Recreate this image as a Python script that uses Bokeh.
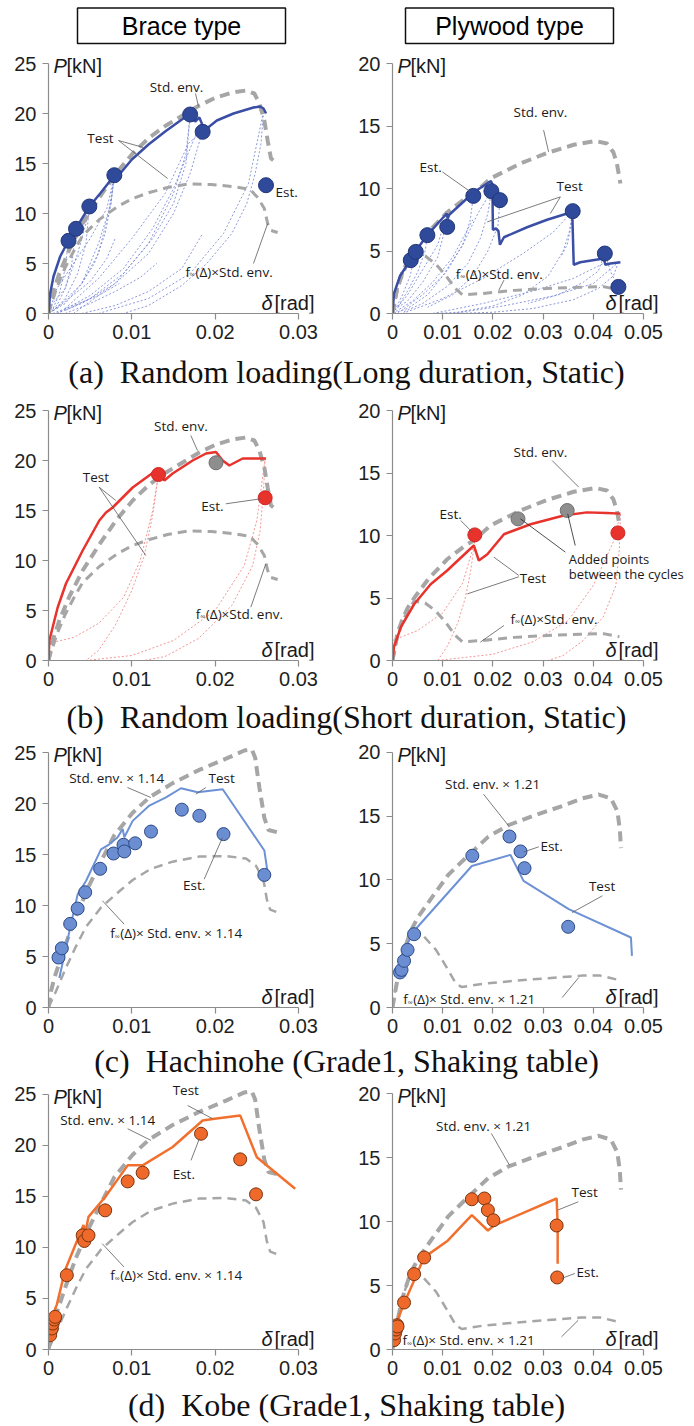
from bokeh.plotting import figure
from bokeh.models import Range1d, FixedTicker, CustomJSTickFormatter
from bokeh.layouts import column, row
from bokeh.core.properties import value
from bokeh.embed import file_html
from bokeh.resources import INLINE

# ---------------- tick labels ----------------
X_TICKS_BRACE = [0, 0.01, 0.02, 0.03]
X_TICKS_PLY = [0, 0.01, 0.02, 0.03, 0.04, 0.05]
Y_TICKS_BRACE = [0, 5, 10, 15, 20, 25]
Y_TICKS_PLY = [0, 5, 10, 15, 20]

HEADERS = ["Brace type", "Plywood type"]
CAPTIONS = [
    "(a)\u00a0 Random loading(Long duration, Static)",
    "(b)\u00a0 Random loading(Short duration, Static)",
    "(c)\u00a0 Hachinohe (Grade1, Shaking table)",
    "(d)\u00a0 Kobe (Grade1, Shaking table)",
]

# ---------------- envelopes ----------------
STD_BRACE_X = [0, 0.0005, 0.0013, 0.0025, 0.0041, 0.0061, 0.0081, 0.0101, 0.0121, 0.0141, 0.0161,
               0.0181, 0.0201, 0.0221, 0.0237, 0.0247, 0.0253, 0.0259, 0.0263, 0.0267, 0.0275]
STD_BRACE_Y = [0, 2.0, 4.0, 6.4, 9.0, 11.6, 14.0, 16.0, 17.6, 18.8, 19.8,
               20.8, 21.6, 22.1, 22.3, 22.0, 21.0, 19.3, 17.3, 15.5, 15.0]
FINF_BRACE_X = [0, 0.001, 0.002, 0.003, 0.0041, 0.0061, 0.0083, 0.0101, 0.0121, 0.0143, 0.0167,
                0.0195, 0.0221, 0.0242, 0.0251, 0.0259, 0.0263, 0.0267, 0.0275]
FINF_BRACE_Y = [0, 2.6, 4.6, 6.2, 7.8, 9.4, 10.7, 11.5, 12.1, 12.6, 12.95,
                12.9, 12.7, 12.4, 11.6, 10.5, 9.0, 8.3, 8.1]
STD_PLY_X = [0, 0.001, 0.002, 0.003, 0.0045, 0.0073, 0.0109, 0.0145, 0.0162, 0.0195, 0.0255,
             0.0308, 0.0361, 0.0404, 0.0427, 0.0440, 0.0447, 0.0454]
STD_PLY_Y = [0, 2.2, 3.3, 4.2, 5.1, 6.6, 8.1, 9.2, 9.6, 10.8, 12.0,
             12.85, 13.5, 13.8, 13.6, 12.9, 12.0, 10.4]
FINF_PLY_X = [0, 0.001, 0.002, 0.003, 0.0043, 0.0065, 0.0085, 0.0105, 0.0125, 0.0139, 0.0180,
              0.0242, 0.0308, 0.0374, 0.0420, 0.0452]
FINF_PLY_Y = [0, 1.9, 3.1, 4.0, 4.75, 4.6, 4.0, 3.1, 2.0, 1.5, 1.6,
              1.85, 2.0, 2.1, 2.15, 1.9]
STD114_X = [0, 0.0003, 0.0007, 0.0021, 0.0033, 0.0049, 0.0061, 0.0079, 0.0101, 0.0121, 0.0149,
            0.0181, 0.0213, 0.0235, 0.0244, 0.0248, 0.0253, 0.0259, 0.0264, 0.0274]
STD114_Y = [0, 1.6, 2.9, 6.3, 9.0, 12.0, 14.0, 16.9, 19.1, 20.6, 22.0,
            23.3, 24.4, 25.2, 25.3, 24.5, 21.6, 18.6, 17.4, 17.2]
FINF114_X = [0, 0.0009, 0.0021, 0.0033, 0.0045, 0.0063, 0.0085, 0.0101, 0.0123, 0.0149, 0.0181,
             0.0213, 0.0237, 0.0249, 0.0258, 0.0262, 0.0266, 0.0274]
FINF114_Y = [0, 1.6, 3.9, 6.0, 7.9, 9.8, 11.4, 12.5, 13.6, 14.3, 14.8,
             14.85, 14.6, 13.9, 12.5, 10.6, 9.6, 9.35]
STD121_X = [0, 0.0008, 0.0018, 0.0035, 0.0051, 0.0078, 0.0111, 0.0145, 0.0191, 0.0231, 0.0285,
            0.0338, 0.0378, 0.0411, 0.0435, 0.0448, 0.0453, 0.0455]
STD121_Y = [0, 1.8, 3.8, 5.9, 7.1, 8.6, 10.4, 11.7, 13.4, 14.3, 15.1,
            15.8, 16.4, 16.7, 16.4, 15.4, 13.9, 12.5]
FINF121_X = [0, 0.001, 0.002, 0.003, 0.0038, 0.0062, 0.0087, 0.0107, 0.0126, 0.0138, 0.0178,
             0.0244, 0.031, 0.0377, 0.0414, 0.0446]
FINF121_Y = [0, 2.4, 4.1, 5.2, 5.8, 5.6, 4.5, 3.2, 1.9, 1.6, 1.85,
             2.1, 2.3, 2.5, 2.5, 2.2]

# ---------------- (a) random long duration ----------------
A_L_TEST_X = [0, 0.0002, 0.0006, 0.0014, 0.0024, 0.0033, 0.0049, 0.0062, 0.0079, 0.0081, 0.0085,
              0.010, 0.012, 0.014, 0.016, 0.017, 0.0176, 0.0181, 0.0184, 0.0186, 0.019, 0.0202,
              0.0222, 0.0246, 0.0254, 0.0258, 0.0261]
A_L_TEST_Y = [0, 2.0, 3.7, 5.7, 7.3, 8.5, 10.7, 12.0, 13.8, 13.5, 13.9,
              15.4, 16.9, 18.2, 19.4, 19.9, 19.2, 19.6, 19.0, 18.2, 18.5, 19.3,
              20.0, 20.6, 20.7, 20.5, 20.0]
A_L_EST_X = [0.0024, 0.0033, 0.0049, 0.0079, 0.017, 0.0185, 0.0261]
A_L_EST_Y = [7.27, 8.47, 10.7, 13.83, 19.9, 18.17, 12.83]
A_L_LOOP_XS = [
    [0.0258, 0.0255, 0.0248, 0.0238, 0.022, 0.019, 0.016, 0.012, 0.009],
    [0.003, 0.008, 0.012, 0.015, 0.0165, 0.017],
    [0.002, 0.006, 0.010, 0.014, 0.0168, 0.0185],
    [0.0185, 0.017, 0.015, 0.012, 0.008, 0.004, 0.001],
    [0.017, 0.0165, 0.015, 0.0125, 0.009, 0.005, 0.002],
    [0.0079, 0.0072, 0.006, 0.004, 0.002, 0],
    [0.001, 0.004, 0.006, 0.0075, 0.0079],
    [0.0049, 0.0045, 0.0035, 0.002, 0.0005],
    [0, 0.002, 0.0035, 0.0045, 0.0049],
    [0.0033, 0.0028, 0.002, 0.001, 0],
    [0.006, 0.012, 0.017, 0.021, 0.024, 0.0258],
    [0.001, 0.005, 0.009, 0.0125, 0.015, 0.017, 0.018],
    [0.0005, 0.003, 0.006, 0.0085],
    [0, 0.002, 0.005, 0.007, 0.008],
    [0.004, 0.008, 0.012, 0.016, 0.0185],
    [0.0079, 0.0075, 0.0068, 0.0055, 0.004],
    [0, 0.001, 0.003, 0.005, 0.007, 0.0079],
    [0.0024, 0.002, 0.0013, 0.0005],
    [0.002, 0.005, 0.008, 0.011, 0.013],
]
A_L_LOOP_YS = [
    [20.2, 17, 14, 11, 8, 5, 2.8, 0.8, 0],
    [0, 3, 7, 12, 16, 19.9],
    [0.5, 3.5, 7.5, 12, 17, 18.3],
    [18.3, 14, 10, 6, 3, 1, 0],
    [19.9, 15, 11, 7.5, 4, 1.5, 0.3],
    [13.8, 10, 6, 3, 1, 0],
    [0.5, 3, 7, 11, 13.8],
    [10.7, 7, 4, 1.5, 0.2],
    [0.5, 2.5, 6, 9, 10.7],
    [8.5, 5, 2.5, 0.8, 0],
    [0, 1.5, 4, 8, 13, 20.2],
    [0, 1.8, 4.5, 8.5, 12.5, 16.5, 18.5],
    [0, 0.8, 1.8, 3.0],
    [0, 1.2, 3.2, 5.5, 7.5],
    [0, 0.8, 2.2, 4.5, 8.0],
    [13.8, 11, 8, 5, 3],
    [0, 2.5, 5, 7.5, 10.5, 13.8],
    [7.3, 4.5, 2.0, 0.4],
    [0, 1.0, 2.2, 3.6, 5.0],
]
A_R_TEST_X = [0, 0.0003, 0.0015, 0.0036, 0.0046, 0.0070, 0.0108, 0.0110, 0.0113, 0.0162, 0.0196,
              0.0199, 0.0200, 0.0206, 0.0211, 0.0214, 0.0222, 0.0268, 0.0308, 0.0348, 0.0358,
              0.0361, 0.0374, 0.0421, 0.0424, 0.0434, 0.0454]
A_R_TEST_Y = [0, 1.6, 3.0, 4.3, 5.0, 6.3, 8.0, 7.6, 7.9, 9.7, 10.6,
              10.3, 6.7, 6.8, 6.6, 5.5, 6.1, 6.9, 7.5, 8.0, 8.2,
              3.9, 4.1, 4.4, 3.9, 4.0, 4.1]
A_R_EST_X = [0.00364, 0.00464, 0.00695, 0.0109, 0.0161, 0.0197, 0.0214, 0.0359, 0.0423, 0.045]
A_R_EST_Y = [4.27, 4.93, 6.27, 6.93, 9.41, 9.79, 9.07, 8.19, 4.8, 2.13]
A_R_LOOP_XS = [
    [0.0359, 0.0352, 0.034, 0.031, 0.026, 0.02, 0.013, 0.008],
    [0.045, 0.044, 0.041, 0.036, 0.028, 0.02, 0.012],
    [0.0423, 0.041, 0.038, 0.033, 0.027],
    [0.0197, 0.019, 0.0175, 0.015, 0.011, 0.006, 0.002],
    [0.0161, 0.0155, 0.014, 0.011, 0.007, 0.003, 0],
    [0.0109, 0.0103, 0.009, 0.006, 0.003, 0],
    [0.007, 0.0065, 0.005, 0.003, 0.001],
    [0.001, 0.006, 0.010, 0.014, 0.017, 0.0197],
    [0.002, 0.010, 0.018, 0.026, 0.032, 0.0359],
    [0.008, 0.018, 0.028, 0.036, 0.042, 0.0423],
    [0.012, 0.022, 0.032, 0.040, 0.045],
    [0, 0.003, 0.006, 0.009, 0.0109],
    [0.0214, 0.021, 0.019, 0.016, 0.012, 0.007],
    [0.0046, 0.0035, 0.002, 0.0005],
    [0, 0.004, 0.008, 0.012, 0.016],
    [0.0359, 0.0356, 0.0348, 0.0335],
    [0.0423, 0.0435, 0.0447],
]
A_R_LOOP_YS = [
    [8.2, 6.5, 5.0, 3.0, 1.5, 0.6, 0.1, 0],
    [4.1, 3.0, 2.0, 1.1, 0.4, 0.1, 0],
    [4.8, 3.4, 2.5, 1.5, 0.8],
    [9.8, 8.0, 6.0, 4.0, 2.2, 0.8, 0.1],
    [9.4, 7.5, 5.5, 3.5, 1.5, 0.4, 0],
    [8.0, 6.5, 4.5, 2.5, 1.0, 0.2],
    [6.3, 5.0, 3.3, 1.8, 0.5],
    [0, 1.5, 3.0, 5.5, 8.0, 9.8],
    [0, 1.2, 2.8, 4.8, 6.5, 8.2],
    [0, 0.8, 1.8, 2.8, 4.0, 4.8],
    [0, 0.6, 1.4, 2.4, 4.1],
    [0, 1.5, 3.5, 5.5, 8.0],
    [9.07, 7.0, 5.0, 3.0, 1.5, 0.5],
    [4.9, 3.0, 1.5, 0.3],
    [0, 1.0, 2.5, 4.5, 7.5],
    [8.2, 7.0, 5.5, 4.5],
    [4.8, 3.3, 2.3],
]

# ---------------- (b) random short duration ----------------
B_L_TEST_X = [0, 0.0001, 0.0011, 0.0021, 0.0041, 0.0061, 0.0069, 0.0077, 0.0101, 0.0129, 0.0133,
              0.0139, 0.0149, 0.0173, 0.0189, 0.0201, 0.0209, 0.0217, 0.0233, 0.0261]
B_L_TEST_Y = [0, 2.0, 5.3, 7.7, 11.0, 14.0, 14.8, 15.3, 17.3, 19.0, 19.0,
              18.0, 18.7, 20.0, 20.7, 20.85, 20.0, 19.5, 20.2, 20.2]
B_L_EST_X = [0.0132, 0.026]
B_L_EST_Y = [18.6, 16.27]
B_L_ADD_X = [0.0201]
B_L_ADD_Y = [19.77]
B_L_LOOP_XS = [
    [0, 0.003, 0.006, 0.009, 0.011, 0.0125, 0.0132],
    [0.0132, 0.0125, 0.0115, 0.010, 0.008, 0.006, 0.0045],
    [0.0045, 0.010, 0.015, 0.020, 0.0235, 0.025, 0.026],
    [0.026, 0.0258, 0.0254, 0.0245, 0.022, 0.018, 0.014, 0.0115],
]
B_L_LOOP_YS = [
    [1.7, 2.3, 3.7, 6.3, 10.0, 15.0, 18.6],
    [18.6, 14.5, 10.5, 7.0, 3.5, 1.0, 0],
    [0, 0.5, 2.0, 5.0, 9.5, 14.0, 20.2],
    [20.2, 17.0, 13.0, 9.5, 5.5, 2.2, 0.4, 0],
]
B_R_TEST_X = [0, 0.0003, 0.0017, 0.0043, 0.0076, 0.0109, 0.0162, 0.0172, 0.0189, 0.0222, 0.0235,
              0.0275, 0.0341, 0.0387, 0.0427, 0.0454]
B_R_TEST_Y = [0, 1.1, 2.7, 4.5, 6.1, 7.2, 9.2, 8.0, 8.5, 10.1, 10.3,
              10.9, 11.6, 11.85, 11.8, 11.75]
B_R_EST_X = [0.0164, 0.0449]
B_R_EST_Y = [10.05, 10.21]
B_R_ADD_X = [0.025, 0.0348]
B_R_ADD_Y = [11.33, 12.0]
B_R_LOOP_XS = [
    [0, 0.005, 0.010, 0.014, 0.0164],
    [0.0164, 0.0155, 0.0145, 0.013, 0.011, 0.009],
    [0.009, 0.020, 0.028, 0.035, 0.040, 0.044, 0.0454],
    [0.0454, 0.0452, 0.0445, 0.042, 0.038, 0.034, 0.031],
]
B_R_LOOP_YS = [
    [1.6, 2.4, 3.8, 6.2, 9.5],
    [9.5, 7.0, 5.0, 3.0, 1.2, 0],
    [0, 0.5, 1.5, 3.2, 6.0, 9.5, 11.7],
    [11.7, 9.0, 6.0, 3.5, 1.6, 0.4, 0],
]

# ---------------- (c) Hachinohe ----------------
C_L_TEST_X = [0.0013, 0.0021, 0.0027, 0.0035, 0.0045, 0.0063, 0.0073, 0.0083, 0.0089, 0.0091, 0.0101,
              0.0121, 0.0141, 0.0159, 0.0179, 0.0209, 0.0259, 0.0263]
C_L_TEST_Y = [2.9, 5.9, 8.2, 11.1, 12.4, 15.5, 16.0, 16.7, 17.5, 16.7, 18.3,
              19.8, 20.6, 21.5, 21.1, 21.4, 15.4, 13.2]
C_L_EST_X = [0.0012, 0.0016, 0.0026, 0.0035, 0.0044, 0.0062, 0.0078, 0.009, 0.0091, 0.0104, 0.0123,
             0.016, 0.0181, 0.021, 0.0259]
C_L_EST_Y = [4.9, 5.8, 8.2, 9.7, 11.3, 13.6, 15.1, 15.95, 15.3, 16.1, 17.25,
             19.4, 18.8, 17.0, 13.0]
C_R_TEST_X = [0.0023, 0.0031, 0.0045, 0.0158, 0.0235, 0.0261, 0.0351, 0.0475, 0.0477]
C_R_TEST_Y = [3.8, 5.1, 6.1, 11.1, 11.97, 9.93, 7.71, 5.49, 4.05]
C_R_EST_X = [0.0015, 0.0018, 0.0023, 0.003, 0.0043, 0.0159, 0.0233, 0.0255, 0.0263, 0.035]
C_R_EST_Y = [2.75, 2.95, 3.66, 4.52, 5.75, 11.9, 13.41, 12.24, 10.93, 6.33]

# ---------------- (d) Kobe ----------------
D_L_TEST_X = [0.0004, 0.001, 0.002, 0.0036, 0.0042, 0.0044, 0.0048, 0.0068, 0.0095, 0.0113, 0.0149,
              0.0185, 0.0197, 0.023, 0.025, 0.0296]
D_L_TEST_Y = [3.2, 4.4, 7.8, 11.0, 12.2, 11.4, 13.0, 14.95, 18.05, 18.05, 19.85,
              22.45, 22.6, 22.95, 18.85, 15.75]
D_L_EST_X = [0.0002, 0.0004, 0.0005, 0.0007, 0.0008, 0.0022, 0.0041, 0.0043, 0.0048, 0.0068, 0.0095,
             0.0113, 0.0183, 0.023, 0.0249]
D_L_EST_Y = [1.4, 2.06, 2.55, 2.94, 3.2, 7.28, 11.19, 10.64, 11.19, 13.64, 16.48,
             17.33, 21.15, 18.64, 15.21]
D_R_TEST_X = [0.0003, 0.001, 0.0023, 0.0043, 0.0063, 0.011, 0.0158, 0.019, 0.0203, 0.0327, 0.0329, 0.0329]
D_R_TEST_Y = [0.5, 2.3, 3.6, 5.4, 7.2, 8.5, 10.5, 9.3, 9.7, 11.8, 9.7, 6.7]
D_R_EST_X = [0.0003, 0.0005, 0.0007, 0.0009, 0.001, 0.0023, 0.0043, 0.0063, 0.0158, 0.0183, 0.019,
             0.0201, 0.0327, 0.0328]
D_R_EST_Y = [0.73, 1.25, 1.56, 1.9, 1.8, 3.67, 5.89, 7.19, 11.74, 11.8, 10.89,
             10.1, 9.69, 5.63]

# ---------------- styles ----------------
GRAY = "#A6A6A6"
TXT = "#1a1a1a"
LEAD = "#5a5a5a"
AXC = "#8C8C8C"
ANN_FONT = "Open Sans"
ANN_SIZE = "13.5px"
NUM_FONT = "Liberation Sans"


def txt(p, x, y, s, align="center", size=ANN_SIZE, font=ANN_FONT, style="normal",
        xo=0, yo=0, color=TXT):
    p.text(x=[x], y=[y], text=[s], text_align=align, text_baseline="middle",
           text_font=value(font), text_font_size=size, text_font_style=style,
           text_color=color, x_offset=xo, y_offset=yo)


def finf(p, x, y, rest):
    txt(p, x, y, "f", align="left")
    txt(p, x, y, "\u221e", align="left", size="7px", xo=4.5, yo=3)
    txt(p, x, y, rest, align="left", xo=10)


def leaders(p, segs, color=LEAD):
    for (x0, y0, x1, y1) in segs:
        p.line([x0, x1], [y0, y1], line_color=color, line_width=0.8)


def make_panel(side, height, frame_px, y_end, xticks, yticks):
    if side == "L":
        bl, fw = 48, 292
        pxu = 250 / 0.03
    else:
        bl, fw = 45, 296
        pxu = 251 / 0.05
    br = 347 - bl - fw
    x1 = fw / pxu
    pyu = frame_px / y_end
    p = figure(width=347, height=height, x_range=Range1d(0, x1), y_range=Range1d(0, y_end),
               output_backend="svg", toolbar_location=None,
               min_border_left=bl, min_border_right=br, min_border_top=0, min_border_bottom=36)
    p.grid.visible = False
    p.outline_line_color = None
    for ax in (p.xaxis[0], p.yaxis[0]):
        ax.axis_line_color = AXC
        ax.axis_line_width = 1.2
        ax.major_tick_line_color = AXC
        ax.major_tick_line_width = 1.2
        ax.major_tick_out = 6
        ax.major_tick_in = 0
        ax.minor_tick_line_color = None
        ax.major_label_text_font = NUM_FONT
        ax.major_label_text_font_size = "20px"
        ax.major_label_text_color = "#1f1f1f"
    p.xaxis.ticker = FixedTicker(ticks=xticks)
    p.xaxis.formatter = CustomJSTickFormatter(code="return tick == 0 ? '0' : tick.toFixed(2);")
    p.xaxis.bounds = (0, xticks[-1])
    p.xaxis.major_label_standoff = 5
    p.yaxis.ticker = FixedTicker(ticks=yticks)
    p.yaxis.bounds = (0, yticks[-1])
    p.yaxis.major_label_standoff = 6
    # axis titles
    ytop = yticks[-1] - 2.5 / pyu
    txt(p, 0, ytop, "P", align="left", size="20px", font=NUM_FONT, style="italic", xo=5)
    txt(p, 0, ytop, "[kN]", align="left", size="20px", font=NUM_FONT, xo=18)
    ybot = 11 / pyu
    txt(p, 0, ybot, "\u03b4", align="left", size="20px", font=NUM_FONT, style="italic", xo=213)
    txt(p, 0, ybot, "[rad]", align="left", size="20px", font=NUM_FONT, xo=226)
    return p


def envelopes(p, sx, sy, fx, fy, thick=4, thin=3):
    p.line(fx, fy, line_color=GRAY, line_width=thin, line_dash="9 6")
    p.line(sx, sy, line_color=GRAY, line_width=thick, line_dash="10 6")


def caption_fig(text, h, center):
    p = figure(width=694, height=h, x_range=Range1d(0, 694), y_range=Range1d(h, 0),
               output_backend="svg", toolbar_location=None, x_axis_type=None, y_axis_type=None,
               min_border=0)
    p.grid.visible = False
    p.outline_line_color = None
    txt(p, 346, center, text, size="32px", font="Liberation Serif", color="#111111")
    return p


# ---------------- header ----------------
hdr = figure(width=694, height=48, x_range=Range1d(0, 694), y_range=Range1d(48, 0),
             output_backend="svg", toolbar_location=None, x_axis_type=None, y_axis_type=None, min_border=0)
hdr.grid.visible = False
hdr.outline_line_color = None
hdr.quad(left=[77, 405], right=[285, 613], top=[7.5, 7.5], bottom=[43, 43],
         fill_color=None, line_color="#111111", line_width=1.5)
txt(hdr, 181, 25, HEADERS[0], size="25px", font=NUM_FONT, color="#000000")
txt(hdr, 509, 25, HEADERS[1], size="25px", font=NUM_FONT, color="#000000")

# ---------------- row (a) ----------------
BLUE = "#3A4EA5"
aL = make_panel("L", 301, 265, 26.5, X_TICKS_BRACE, Y_TICKS_BRACE)
aL.multi_line(A_L_LOOP_XS, A_L_LOOP_YS, line_color="#6F7FD2", line_width=0.8, line_dash="2 2")
envelopes(aL, STD_BRACE_X, STD_BRACE_Y, FINF_BRACE_X, FINF_BRACE_Y)
aL.line(A_L_TEST_X, A_L_TEST_Y, line_color=BLUE, line_width=2.5)
aL.scatter(A_L_EST_X, A_L_EST_Y, size=15, fill_color="#2F4A9A", line_color="#22367A", line_width=1)
leaders(aL, [(0.01764, 22.0, 0.0180, 20.7), (0.0084, 17.3, 0.0114, 16.6),
             (0.0084, 17.3, 0.0143, 13.5), (0.0246, 5.0, 0.0263, 9.0)])
txt(aL, 0.01536, 22.7, "Std. env.")
txt(aL, 0.00624, 17.6, "Test")
txt(aL, 0.02724, 12.2, "Est.", align="left")
finf(aL, 0.01644, 4.2, "(\u0394)\u00d7Std. env.")

aR = make_panel("R", 301, 265, 21.2, X_TICKS_PLY, Y_TICKS_PLY)
aR.multi_line(A_R_LOOP_XS, A_R_LOOP_YS, line_color="#6F7FD2", line_width=0.8, line_dash="2 2")
envelopes(aR, STD_PLY_X, STD_PLY_Y, FINF_PLY_X, FINF_PLY_Y)
aR.line(A_R_TEST_X, A_R_TEST_Y, line_color=BLUE, line_width=2.5)
aR.scatter(A_R_EST_X, A_R_EST_Y, size=15, fill_color="#2F4A9A", line_color="#22367A", line_width=1)
leaders(aR, [(0.0301, 14.67, 0.0311, 12.93), (0.00993, 11.33, 0.01556, 9.73),
             (0.03344, 9.33, 0.01887, 7.33), (0.03344, 9.33, 0.03146, 8.0), (0.0222, 2.67, 0.0212, 1.87)])
txt(aR, 0.02947, 16.13, "Std. env.")
txt(aR, 0.00762, 11.73, "Est.")
txt(aR, 0.0353, 10.19, "Test")
finf(aR, 0.01258, 3.2, "(\u0394)\u00d7Std. env.")

# ---------------- row (b) ----------------
RED = "#E8322C"
bL = make_panel("L", 296, 260, 26.0, X_TICKS_BRACE, Y_TICKS_BRACE)
bL.multi_line(B_L_LOOP_XS, B_L_LOOP_YS, line_color="#F07C7C", line_width=0.8, line_dash="2 2")
envelopes(bL, STD_BRACE_X, STD_BRACE_Y, FINF_BRACE_X, FINF_BRACE_Y)
bL.line(B_L_TEST_X, B_L_TEST_Y, line_color=RED, line_width=2.5)
bL.scatter(B_L_ADD_X, B_L_ADD_Y, size=14, fill_color="#8E8E8E", line_color="#707070", line_width=1)
bL.scatter(B_L_EST_X, B_L_EST_Y, size=14, fill_color=RED, line_color="#D02424", line_width=1)
leaders(bL, [(0.01708, 22.5, 0.01788, 21.0), (0.00608, 17.33, 0.00808, 16.0),
             (0.00608, 17.33, 0.01168, 10.5), (0.02128, 15.67, 0.02548, 16.17), (0.02428, 5.33, 0.02608, 9.67)])
txt(bL, 0.01588, 23.5, "Std. env.")
txt(bL, 0.00568, 18.33, "Test")
txt(bL, 0.01968, 15.5, "Est.")
finf(bL, 0.01768, 4.67, "(\u0394)\u00d7Std. env.")

bR = make_panel("R", 296, 260, 20.8, X_TICKS_PLY, Y_TICKS_PLY)
bR.multi_line(B_R_LOOP_XS, B_R_LOOP_YS, line_color="#F07C7C", line_width=0.8, line_dash="2 2")
envelopes(bR, STD_PLY_X, STD_PLY_Y, FINF_PLY_X, FINF_PLY_Y)
bR.line(B_R_TEST_X, B_R_TEST_Y, line_color=RED, line_width=2.5)
bR.scatter(B_R_ADD_X, B_R_ADD_Y, size=14, fill_color="#8E8E8E", line_color="#707070", line_width=1)
bR.scatter(B_R_EST_X, B_R_EST_Y, size=14, fill_color=RED, line_color="#D02424", line_width=1)
leaders(bR, [(0.0318, 16.0, 0.0371, 13.87), (0.01358, 11.2, 0.0159, 10.27),
             (0.02517, 6.8, 0.0202, 8.27), (0.02517, 6.7, 0.0149, 5.33), (0.0222, 2.8, 0.0175, 1.47)])
leaders(bR, [(0.03444, 8.67, 0.0255, 11.33), (0.0364, 9.2, 0.0349, 11.73)], color="#222222")
txt(bR, 0.02947, 16.67, "Std. env.")
txt(bR, 0.01159, 11.73, "Est.")
txt(bR, 0.0351, 8.13, "Added points", align="left", size="13px")
txt(bR, 0.0351, 6.93, "between the cycles", align="left", size="13px")
txt(bR, 0.02536, 6.61, "Test", align="left")
finf(bR, 0.0235, 3.33, "(\u0394)\u00d7Std. env.")

# ---------------- row (c) ----------------
LBLUE = "#6C91D4"
cL = make_panel("L", 303, 267, 26.18, X_TICKS_BRACE, Y_TICKS_BRACE)
envelopes(cL, STD114_X, STD114_Y, FINF114_X, FINF114_Y, thick=4, thin=2.5)
cL.line(C_L_TEST_X, C_L_TEST_Y, line_color=LBLUE, line_width=2)
cL.scatter(C_L_EST_X, C_L_EST_Y, size=13, fill_color="#6B8ED3", line_color="#2D4A86", line_width=1)
leaders(cL, [(0.00948, 21.57, 0.01228, 20.59), (0.01888, 21.57, 0.01768, 20.92),
             (0.01868, 12.58, 0.02088, 16.67), (0.00908, 8.17, 0.00648, 10.46)])
txt(cL, 0.00248, 22.48, "Std. env. \u00d7 1.14", align="left")
txt(cL, 0.0192, 22.48, "Test", align="left")
txt(cL, 0.01748, 12.03, "Est.")
finf(cL, 0.0074, 7.29, "(\u0394)\u00d7  Std. env.    \u00d7 1.14")

cR = make_panel("R", 303, 267, 20.94, X_TICKS_PLY, Y_TICKS_PLY)
envelopes(cR, STD121_X, STD121_Y, FINF121_X, FINF121_Y, thick=4, thin=2.5)
cR.line(C_R_TEST_X, C_R_TEST_Y, line_color=LBLUE, line_width=2)
cR.scatter(C_R_EST_X, C_R_EST_Y, size=13, fill_color="#6B8ED3", line_color="#2D4A86", line_width=1)
leaders(cR, [(0.01813, 16.73, 0.02313, 14.25), (0.02913, 12.6, 0.02613, 12.2),
             (0.0418, 8.76, 0.0358, 7.45), (0.0338, 0.78, 0.0371, 2.35)])
txt(cR, 0.01047, 17.52, "Std. env. \u00d7 1.21", align="left")
txt(cR, 0.02947, 12.63, "Est.", align="left")
txt(cR, 0.03913, 9.54, "Test", align="left")
finf(cR, 0.00213, 0.65, "(\u0394)\u00d7  Std. env.    \u00d7 1.21")

# ---------------- row (d) ----------------
ORANGE = "#F2702E"
dL = make_panel("L", 305, 269, 26.37, X_TICKS_BRACE, Y_TICKS_BRACE)
envelopes(dL, STD114_X, STD114_Y, FINF114_X, FINF114_Y, thick=4, thin=2.5)
dL.line(D_L_TEST_X, D_L_TEST_Y, line_color=ORANGE, line_width=2.5)
dL.scatter(D_L_EST_X, D_L_EST_Y, size=13, fill_color="#EF6A2A", line_color="#7A3510", line_width=1)
leaders(dL, [(0.0167, 23.92, 0.0197, 22.62), (0.0095, 21.64, 0.0123, 20.5),
             (0.0171, 18.54, 0.0181, 20.66), (0.00906, 8.09, 0.00644, 10.38)])
txt(dL, 0.0149, 25.39, "Test", align="left")
txt(dL, 0.0014, 22.45, "Std. env.   \u00d7 1.14", align="left")
txt(dL, 0.0149, 17.23, "Est.", align="left")
finf(dL, 0.0074, 7.28, "(\u0394)\u00d7  Std. env.    \u00d7 1.14")

dR = make_panel("R", 305, 269, 21.02, X_TICKS_PLY, Y_TICKS_PLY)
envelopes(dR, STD121_X, STD121_Y, FINF121_X, FINF121_Y, thick=4, thin=2.5)
dR.line(D_R_TEST_X, D_R_TEST_Y, line_color=ORANGE, line_width=2.5)
dR.scatter(D_R_EST_X, D_R_EST_Y, size=13, fill_color="#EF6A2A", line_color="#7A3510", line_width=1)
leaders(dR, [(0.0197, 16.88, 0.0233, 14.4), (0.037, 11.54, 0.0329, 10.89),
             (0.03633, 5.94, 0.03367, 5.55), (0.03367, 0.99, 0.037, 2.29)])
txt(dR, 0.00867, 17.45, "Std. env.   \u00d7 1.21", align="left")
txt(dR, 0.03567, 12.32, "Test", align="left")
txt(dR, 0.03667, 6.07, "Est.", align="left")
finf(dR, 0.002, 0.73, "(\u0394)\u00d7  Std. env.    \u00d7 1.21")

layout = column(
    hdr,
    row(aL, aR, spacing=0), caption_fig(CAPTIONS[0], 51, 22.5),
    row(bL, bR, spacing=0), caption_fig(CAPTIONS[1], 44, 20.5),
    row(cL, cR, spacing=0), caption_fig(CAPTIONS[2], 37, 17.5),
    row(dL, dR, spacing=0), caption_fig(CAPTIONS[3], 40, 19.5),
    spacing=0,
)

open("out.html", "w").write(file_html(layout, INLINE))
